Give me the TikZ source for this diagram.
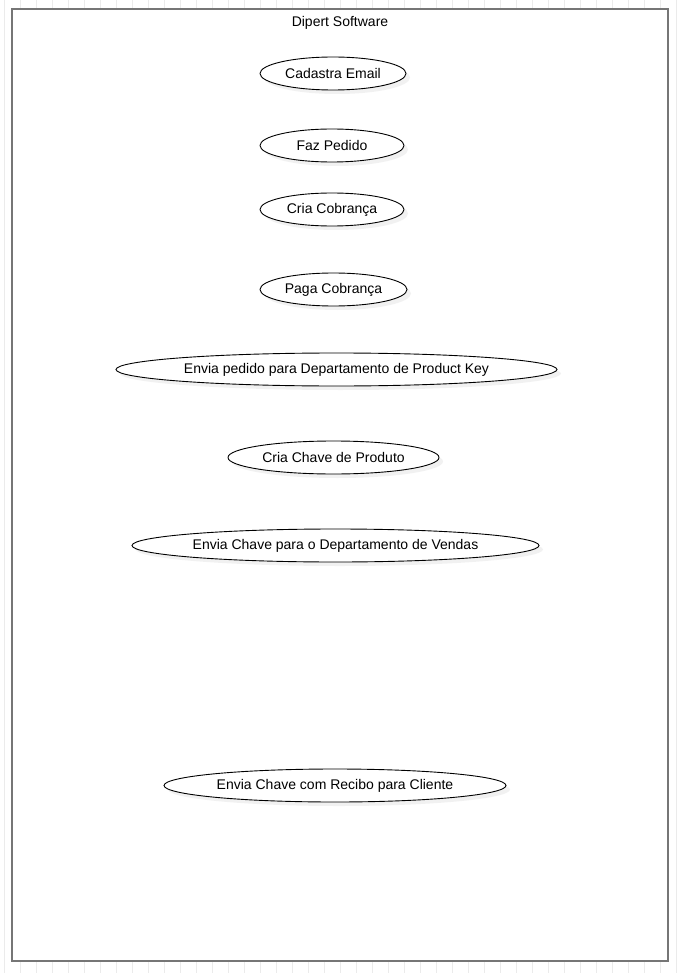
\documentclass[tikz,border=0pt]{standalone}
\usepackage{fontspec}
\setmainfont{Liberation Sans}
\usepackage{tikz}
\usetikzlibrary{shapes.geometric, shadows}
\usepackage{xcolor}
\definecolor{gridgray}{HTML}{EBEBEB}
\definecolor{framegray}{HTML}{767676}

\begin{document}
\begin{tikzpicture}[x=1pt, y=-1pt, font=\fontsize{14}{16}\selectfont,
    usecase/.style={ellipse, draw=black, line width=0.9pt, fill=white,
        minimum height=33pt, inner sep=0pt,
        drop shadow={shadow xshift=4pt, shadow yshift=-4pt, fill=black!10}}]
    \useasboundingbox (0,0) rectangle (681,973);
    % background grid
    \draw[gridgray, line width=0.8pt, shift={(4,9.3)}, step=16] (-16,-16) grid (688,976);
    % system boundary
    \draw[framegray, line width=2pt, fill=white] (12,9) rectangle (668,961);
    \node (title) at (340,22.5) {Dipert Software};
    % use cases
    \node[usecase, minimum width=146pt] (email) at (333,73.5) {Cadastra Email};
    \node[usecase, minimum width=144pt] (pedido) at (332,145.5) {Faz Pedido};
    \node[usecase, minimum width=144pt] (cobranca) at (332,209.5) {Cria Cobrança};
    \node[usecase, minimum width=147pt] (paga) at (333.5,289.5) {Paga Cobrança};
    \node[usecase, minimum width=441pt] (enviapedido) at (336.5,369.5) {Envia pedido para Departamento de Product Key};
    \node[usecase, minimum width=211pt] (chave) at (333.5,457.5) {Cria Chave de Produto};
    \node[usecase, minimum width=407pt] (enviachave) at (335.5,545.5) {Envia Chave para o Departamento de Vendas};
    \node[usecase, minimum width=342pt] (recibo) at (335,785.5) {Envia Chave com Recibo para Cliente};
\end{tikzpicture}
\end{document}
